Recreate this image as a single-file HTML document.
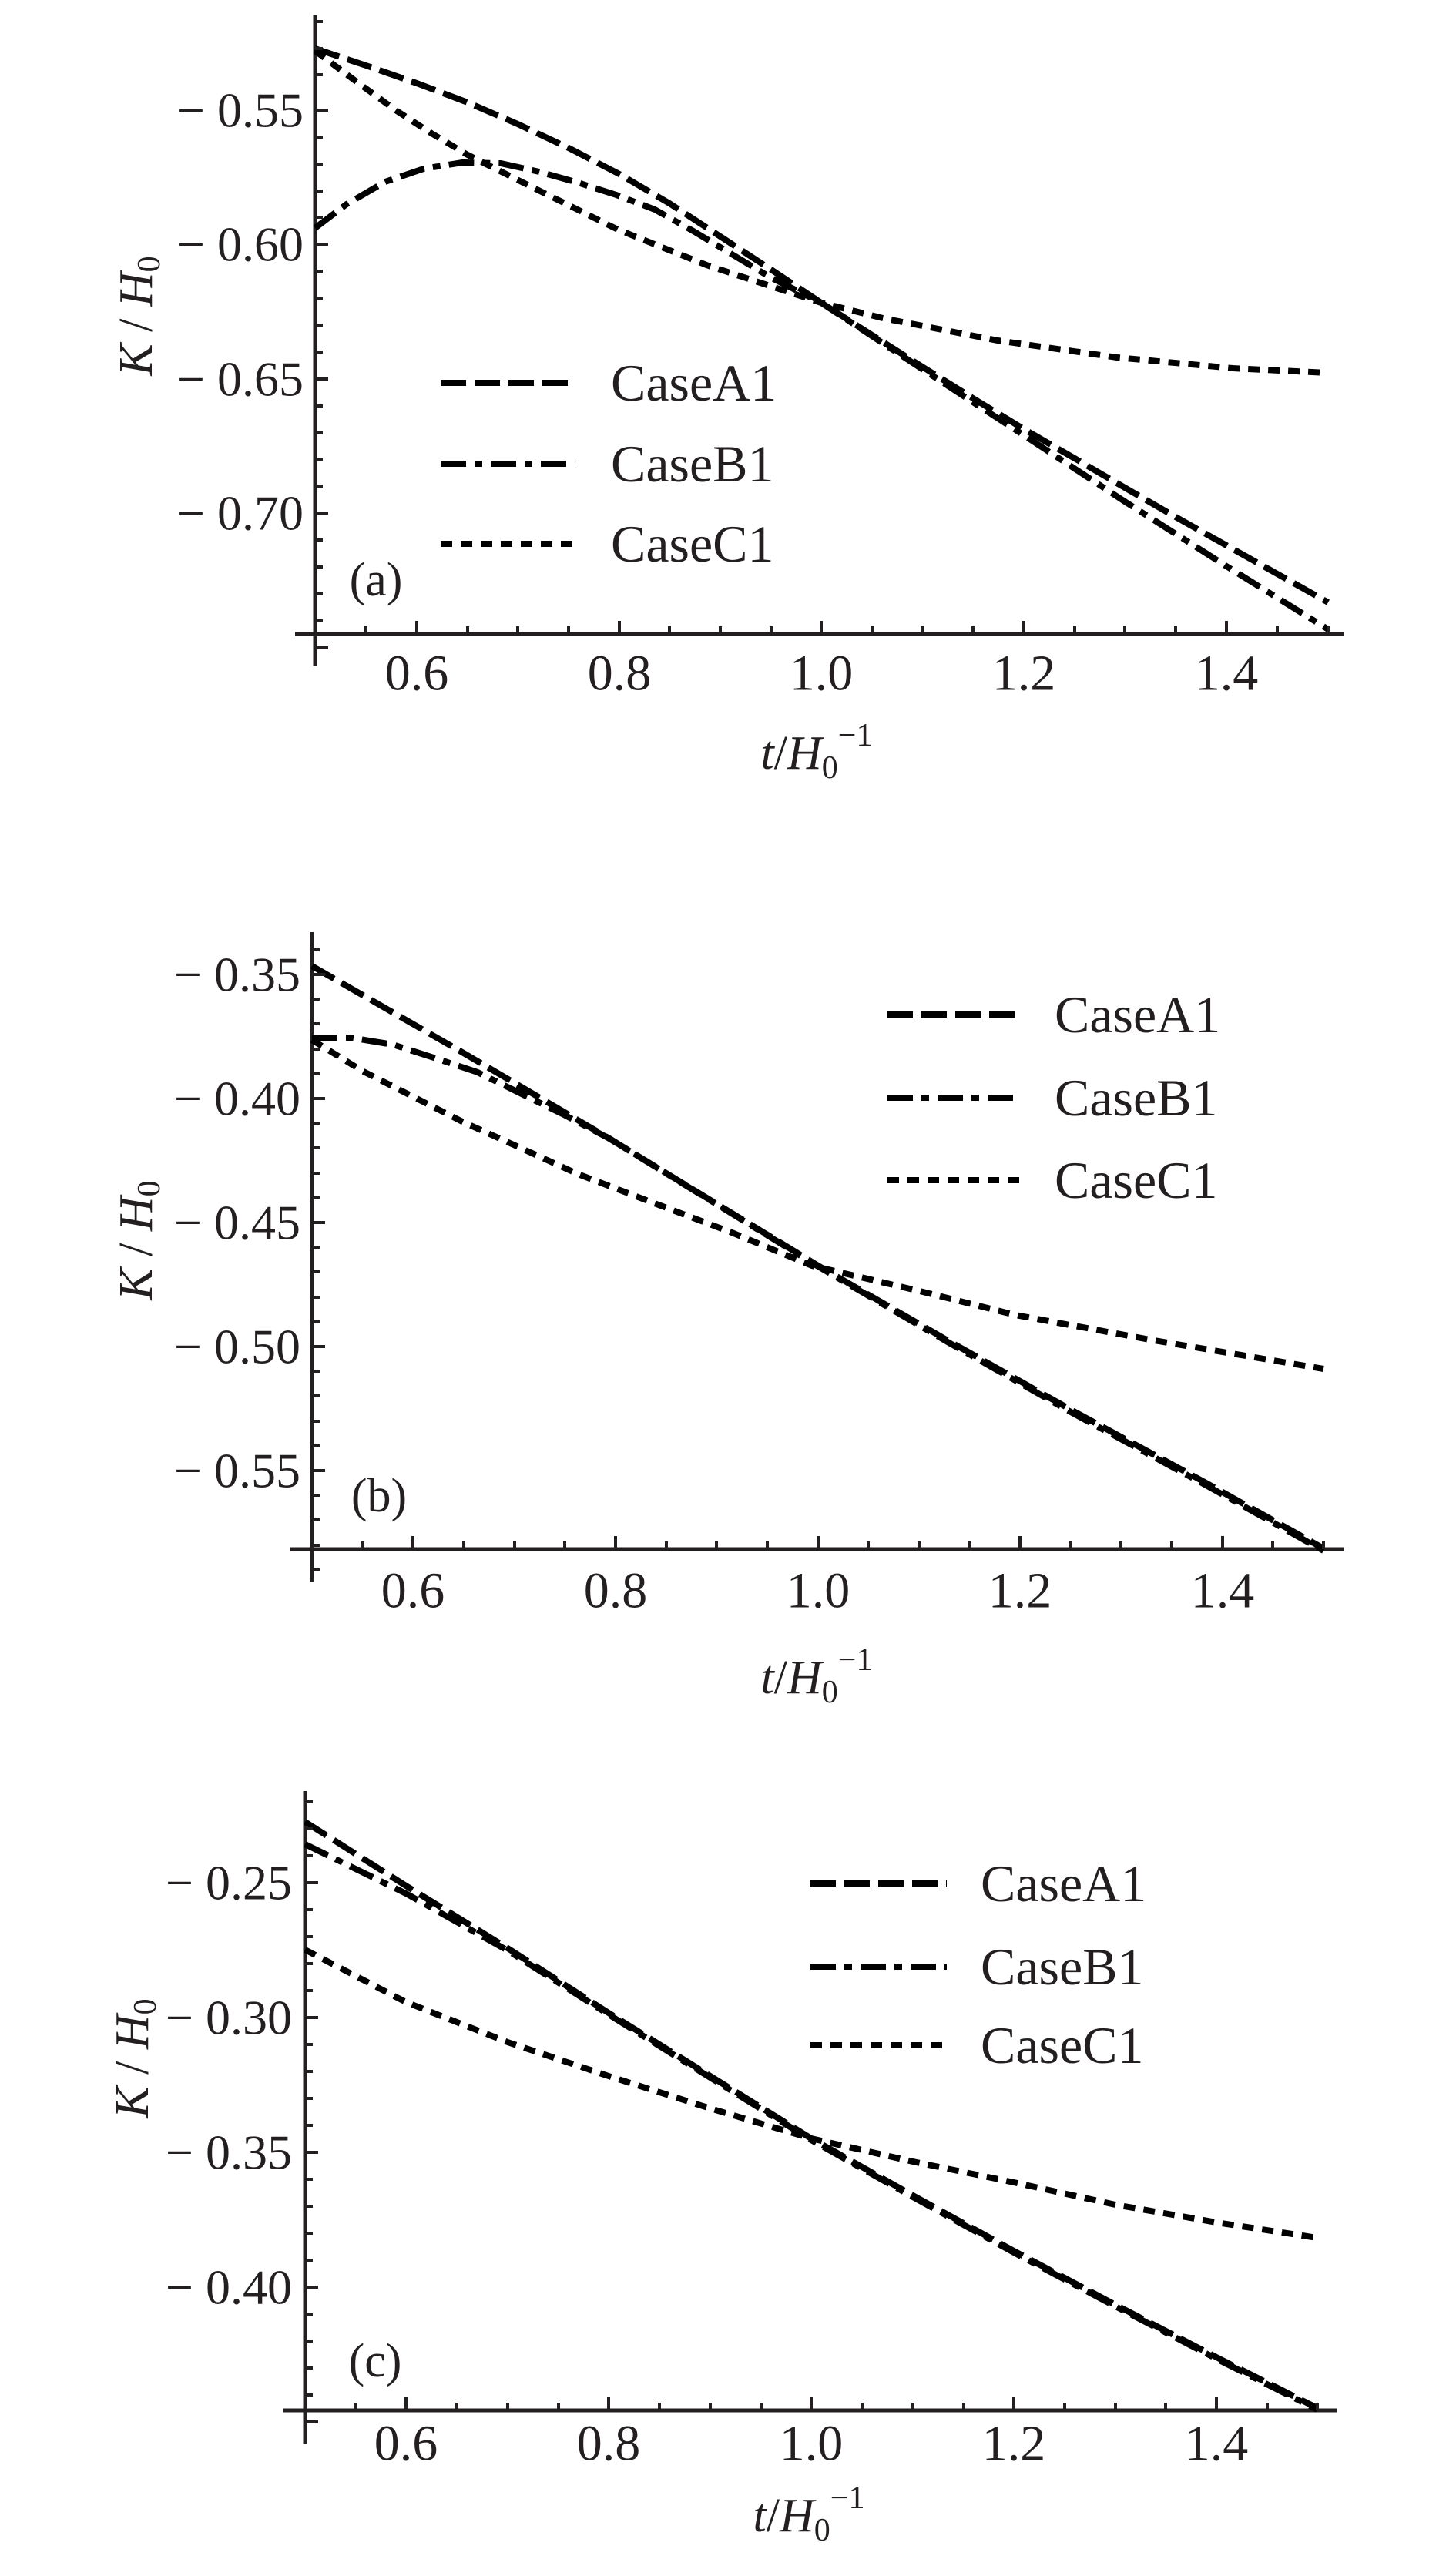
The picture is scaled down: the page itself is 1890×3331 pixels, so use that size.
<!DOCTYPE html>
<html><head><meta charset="utf-8"><style>
html,body{margin:0;padding:0;background:#fff}
svg{display:block}
text{font-family:"Liberation Serif",serif;fill:#231f20}
</style></head><body>
<svg width="1890" height="3331" viewBox="0 0 1890 3331" xmlns="http://www.w3.org/2000/svg">
<g fill="none" stroke="#231f20" stroke-width="5">
<line x1="409" y1="20" x2="409" y2="865"/>
<line x1="383" y1="823" x2="1744" y2="823"/>
<line x1="405" y1="1210" x2="405" y2="2053"/>
<line x1="377" y1="2011" x2="1745" y2="2011"/>
<line x1="396" y1="2325" x2="396" y2="3172"/>
<line x1="368" y1="3129" x2="1736" y2="3129"/>
</g>
<g fill="none" stroke="#000" stroke-width="8">
<polyline stroke-dasharray="33 11" points="409,63 475,85 541,108 607,133 672,161 738,192 804,226 869,264 935,307 1001,350 1066,393 1132,435 1197,476 1263,517 1329,557 1395,595 1460,633 1526,671 1592,708 1658,745 1724,782"/>
<polyline stroke-dasharray="33 11 10 11" points="409,296 450,265 500,236 550,219 600,211 650,212 700,223 750,237 800,253 850,272 900,300 950,330 1000,360 1066,393 1197,479 1329,565 1460,651 1592,735 1724,817"/>
<polyline stroke-dasharray="15 11" points="409,66 460,104 515,144 560,173 607,201 687,241 802,298 917,344 1066,393 1146,413 1295,442 1450,464 1600,478 1724,484"/>
<polyline stroke-dasharray="33 11" points="405,1254 600,1366 791,1478 1062,1643 1230,1740 1390,1830 1560,1922 1718,2010"/>
<polyline stroke-dasharray="33 11 10 11" points="405,1347 455,1347 510,1356 563,1373 620,1392 671,1417 730,1446 791,1478 1062,1644 1230,1742 1390,1833 1560,1925 1718,2013"/>
<polyline stroke-dasharray="15 11" points="405,1350 470,1390 539,1425 600,1456 671,1488 750,1524 839,1558 950,1600 1054,1643 1198,1677 1318,1707 1498,1740 1718,1777"/>
<polyline stroke-dasharray="33 11" points="396,2365 527,2448 659,2529 790,2613 922,2695 1053,2776 1185,2850 1316,2922 1448,2992 1579,3060 1710,3126"/>
<polyline stroke-dasharray="33 11 10 11" points="396,2394 527,2458 659,2532 790,2615 922,2697 1053,2778 1185,2852 1316,2924 1448,2994 1579,3062 1710,3128"/>
<polyline stroke-dasharray="15 11" points="396,2531 527,2599 659,2651 790,2695 922,2737 1053,2776 1185,2806 1316,2833 1448,2862 1579,2885 1710,2905"/>
<line x1="572" y1="497" x2="747" y2="497" stroke-dasharray="33 11"/>
<line x1="572" y1="602" x2="747" y2="602" stroke-dasharray="33 11 10 11"/>
<line x1="572" y1="706" x2="747" y2="706" stroke-dasharray="15 11"/>
<line x1="1152" y1="1317" x2="1324" y2="1317" stroke-dasharray="33 11"/>
<line x1="1152" y1="1425" x2="1324" y2="1425" stroke-dasharray="33 11 10 11"/>
<line x1="1152" y1="1532" x2="1324" y2="1532" stroke-dasharray="15 11"/>
<line x1="1052" y1="2445" x2="1229" y2="2445" stroke-dasharray="33 11"/>
<line x1="1052" y1="2553" x2="1229" y2="2553" stroke-dasharray="33 11 10 11"/>
<line x1="1052" y1="2655" x2="1229" y2="2655" stroke-dasharray="15 11"/>
</g>
<g font-size="68">
<text x="793" y="497" dominant-baseline="central">CaseA1</text>
<text x="793" y="602" dominant-baseline="central">CaseB1</text>
<text x="793" y="706" dominant-baseline="central">CaseC1</text>
<text x="1369" y="1317" dominant-baseline="central">CaseA1</text>
<text x="1369" y="1425" dominant-baseline="central">CaseB1</text>
<text x="1369" y="1532" dominant-baseline="central">CaseC1</text>
<text x="1273" y="2445" dominant-baseline="central">CaseA1</text>
<text x="1273" y="2553" dominant-baseline="central">CaseB1</text>
<text x="1273" y="2655" dominant-baseline="central">CaseC1</text>
</g>
<g font-size="62">
<text x="488" y="753" text-anchor="middle" dominant-baseline="central">(a)</text>
<text x="492" y="1942" text-anchor="middle" dominant-baseline="central">(b)</text>
<text x="487" y="3065" text-anchor="middle" dominant-baseline="central">(c)</text>
</g>
<g font-size="64" text-anchor="end" dominant-baseline="central">
<text x="394" y="143">− 0.55</text>
<text x="394" y="317">− 0.60</text>
<text x="394" y="492">− 0.65</text>
<text x="394" y="666">− 0.70</text>
<text x="390" y="1265">− 0.35</text>
<text x="390" y="1426">− 0.40</text>
<text x="390" y="1587">− 0.45</text>
<text x="390" y="1748">− 0.50</text>
<text x="390" y="1909">− 0.55</text>
<text x="379" y="2444">− 0.25</text>
<text x="379" y="2619">− 0.30</text>
<text x="379" y="2794">− 0.35</text>
<text x="379" y="2969">− 0.40</text>
</g>
<g font-size="66" text-anchor="middle" dominant-baseline="central">
<text x="541" y="874">0.6</text><text x="804" y="874">0.8</text><text x="1066" y="874">1.0</text><text x="1329" y="874">1.2</text><text x="1592" y="874">1.4</text>
<text x="536" y="2065">0.6</text><text x="799" y="2065">0.8</text><text x="1062" y="2065">1.0</text><text x="1324" y="2065">1.2</text><text x="1587" y="2065">1.4</text>
<text x="527" y="3172">0.6</text><text x="790" y="3172">0.8</text><text x="1053" y="3172">1.0</text><text x="1316" y="3172">1.2</text><text x="1579" y="3172">1.4</text>
</g>
<g font-size="62">
<text x="1060" y="998" text-anchor="middle" font-style="italic">t<tspan font-style="normal">/</tspan>H<tspan font-size="42" dy="12" font-style="normal">0</tspan><tspan font-size="42" dy="-42" font-style="normal">−1</tspan></text>
<text x="1060" y="2198" text-anchor="middle" font-style="italic">t<tspan font-style="normal">/</tspan>H<tspan font-size="42" dy="12" font-style="normal">0</tspan><tspan font-size="42" dy="-42" font-style="normal">−1</tspan></text>
<text x="1050" y="3286" text-anchor="middle" font-style="italic">t<tspan font-style="normal">/</tspan>H<tspan font-size="42" dy="12" font-style="normal">0</tspan><tspan font-size="42" dy="-42" font-style="normal">−1</tspan></text>
<text transform="translate(197,410) rotate(-90)" text-anchor="middle" font-style="italic">K<tspan font-style="normal"> / </tspan>H<tspan font-size="42" dy="10" font-style="normal">0</tspan></text>
<text transform="translate(197,1610) rotate(-90)" text-anchor="middle" font-style="italic">K<tspan font-style="normal"> / </tspan>H<tspan font-size="42" dy="10" font-style="normal">0</tspan></text>
<text transform="translate(192,2672) rotate(-90)" text-anchor="middle" font-style="italic">K<tspan font-style="normal"> / </tspan>H<tspan font-size="42" dy="10" font-style="normal">0</tspan></text>
</g>
<g stroke="#231f20" stroke-width="4">
<path d="M409,28h10M409,63h10M409,97h10M409,143h17M409,178h10M409,213h10M409,248h10M409,282h10M409,317h17M409,352h10M409,387h10M409,422h10M409,457h10M409,492h17M409,527h10M409,562h10M409,597h10M409,631h10M409,666h17M409,701h10M409,736h10M409,771h10M409,806h10M409,841h17"/>
<path d="M475,823v-10M541,823v-17M607,823v-10M672,823v-10M738,823v-10M804,823v-17M869,823v-10M935,823v-10M1001,823v-10M1066,823v-17M1132,823v-10M1197,823v-10M1263,823v-10M1329,823v-17M1395,823v-10M1460,823v-10M1526,823v-10M1592,823v-17M1658,823v-10M1724,823v-10"/>
<path d="M405,1233h10M405,1265h17M405,1297h10M405,1329h10M405,1362h10M405,1394h10M405,1426h17M405,1458h10M405,1490h10M405,1523h10M405,1555h10M405,1587h17M405,1619h10M405,1651h10M405,1684h10M405,1716h10M405,1748h17M405,1780h10M405,1812h10M405,1845h10M405,1877h10M405,1909h17M405,1941h10M405,1973h10M405,2006h10M405,2038h10"/>
<path d="M471,2011v-10M536,2011v-17M602,2011v-10M668,2011v-10M733,2011v-10M799,2011v-17M865,2011v-10M930,2011v-10M996,2011v-10M1062,2011v-17M1127,2011v-10M1193,2011v-10M1258,2011v-10M1324,2011v-17M1390,2011v-10M1455,2011v-10M1521,2011v-10M1587,2011v-17M1652,2011v-10M1718,2011v-10"/>
<path d="M396,2339h10M396,2374h10M396,2409h10M396,2444h17M396,2479h10M396,2514h10M396,2549h10M396,2584h10M396,2619h17M396,2654h10M396,2689h10M396,2724h10M396,2759h10M396,2794h17M396,2829h10M396,2864h10M396,2899h10M396,2934h10M396,2969h17M396,3004h10M396,3039h10M396,3074h10M396,3109h10M396,3144h17"/>
<path d="M462,3129v-10M527,3129v-17M593,3129v-10M659,3129v-10M725,3129v-10M790,3129v-17M856,3129v-10M922,3129v-10M988,3129v-10M1053,3129v-17M1119,3129v-10M1185,3129v-10M1251,3129v-10M1316,3129v-17M1382,3129v-10M1448,3129v-10M1513,3129v-10M1579,3129v-17M1645,3129v-10M1710,3129v-10"/>
</g>
</svg>
</body></html>
